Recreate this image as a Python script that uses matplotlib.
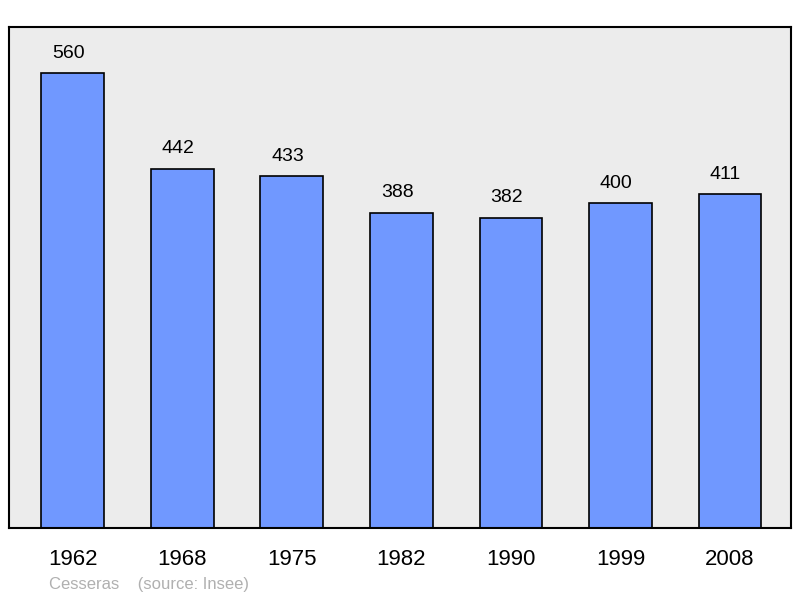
import matplotlib
matplotlib.use("Agg")
import matplotlib.pyplot as plt

years = ["1962", "1968", "1975", "1982", "1990", "1999", "2008"]
values = [560, 442, 433, 388, 382, 400, 411]

plt.rcParams['font.family'] = ['Liberation Sans', 'DejaVu Sans']
fig = plt.figure(figsize=(8, 5.98), dpi=100)
ax = fig.add_axes([9/800, 1-528/598, 782/800, 501/598])
ax.set_facecolor('#ececec')
x = list(range(len(years)))
ax.bar(x, values, width=0.575, color='#7098ff', edgecolor='black', linewidth=1.2, zorder=2)
for xi, v in zip(x, values):
    ax.text(xi - 0.04, v + 14, str(v), ha='center', va='bottom', fontsize=14)
ax.set_xlim(-0.584, 6.557)
ax.set_ylim(0, 616.6)
ax.set_xticks(x)
ax.set_xticklabels(years, fontsize=16)
ax.tick_params(length=0, pad=15)
ax.set_yticks([])
for s in ax.spines.values():
    s.set_linewidth(1.5)
fig.text(49/800, 1-584/598, "Cesseras    (source: Insee)", color='#b0b0b0', fontsize=12, va='center')
fig.savefig("out.png", dpi=100)
